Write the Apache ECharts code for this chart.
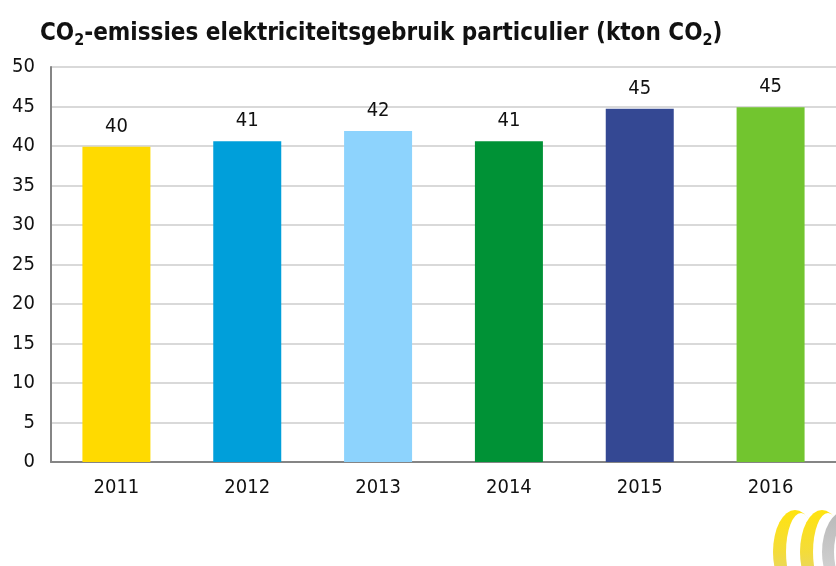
<!DOCTYPE html>
<html>
<head>
<meta charset="utf-8">
<script src="https://cdn.jsdelivr.net/npm/echarts@6/dist/echarts.min.js"></script>
<style>
  html, body { margin: 0; padding: 0; background: #fff; }
  #main { width: 836px; height: 566px; }
</style>
</head>
<body>
<div id="main"></div>
<script>
// data
const years = ['2011', '2012', '2013', '2014', '2015', '2016'];
const emissions = [39.9, 40.6, 41.9, 40.6, 44.7, 44.9];
const barColors = ['#FFDA00', '#009FDA', '#8DD3FD', '#009236', '#344893', '#72C52F'];

const titleFont = '"DejaVu Sans Condensed", "DejaVu Sans", sans-serif';
const font = '"Liberation Sans Narrow", "DejaVu Sans Condensed", sans-serif';

const yellowFill = new echarts.graphic.LinearGradient(0, 0, 0, 1, [
    { offset: 0, color: '#FFE30F' },
    { offset: 0.5, color: '#F4DC3A' },
    { offset: 1, color: '#DCD08A' }
]);
const greyFill = new echarts.graphic.LinearGradient(0, 0, 0, 1, [
    { offset: 0, color: '#B8B8B8' },
    { offset: 1, color: '#DADADA' }
]);

function blob(left, top, w, h, fill, z) {
    return { type: 'circle', left: left, top: top, shape: { r: h / 2 },
             scaleX: w / h, style: { fill: fill }, z: z, silent: true };
}

const chart = echarts.init(document.getElementById('main'));
const option = {
    backgroundColor: '#fff',
    animation: false,
    title: {
        text: '{n|CO}{s|2}{n|-emissies elektriciteitsgebruik particulier (kton CO}{s|2}{n|)}',
        left: 35,
        top: 14,
        textStyle: {
            rich: {
                n: { fontFamily: titleFont, fontWeight: 'bold', fontSize: 24, color: '#111', lineHeight: 30 },
                s: { fontFamily: titleFont, fontWeight: 'bold', fontSize: 16, color: '#111', lineHeight: 16, verticalAlign: 'bottom' }
            }
        }
    },
    grid: { left: 51, top: 67, width: 788, bottom: 104, containLabel: false },
    xAxis: {
        type: 'category',
        data: years,
        axisLine: { lineStyle: { color: '#858585', width: 2 } },
        axisTick: { show: false },
        axisLabel: { fontFamily: font, fontSize: 20, color: '#111', margin: 16 }
    },
    yAxis: {
        type: 'value',
        min: 0,
        max: 50,
        interval: 5,
        axisLine: { show: true, lineStyle: { color: '#858585', width: 2 } },
        axisTick: { show: false },
        splitLine: { lineStyle: { color: '#D9D9D9', width: 2 } },
        axisLabel: { fontFamily: font, fontSize: 20, color: '#111', margin: 16 }
    },
    series: [{
        type: 'bar',
        barWidth: 68,
        data: emissions.map((v, i) => ({ value: v, itemStyle: { color: barColors[i] } })),
        label: {
            show: true,
            position: 'top',
            distance: 10,
            fontFamily: font,
            fontSize: 20,
            color: '#111',
            formatter: p => Math.round(p.value)
        }
    }],
    graphic: [
        blob(773, 510, 44, 84, yellowFill, 3),
        blob(786, 513, 30, 78, '#fff', 4),
        blob(800, 510, 44, 84, yellowFill, 5),
        blob(813, 513, 30, 78, '#fff', 6),
        blob(822, 510, 50, 84, greyFill, 7),
        blob(834, 514, 40, 76, '#fff', 8)
    ]
};
chart.setOption(option);
</script>
</body>
</html>
